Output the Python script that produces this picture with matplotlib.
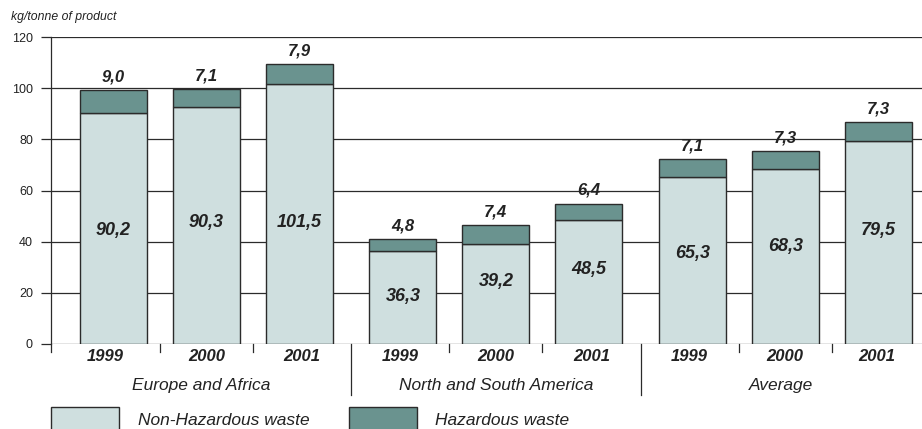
import matplotlib
matplotlib.use("Agg")
from matplotlib import pyplot as plt
from matplotlib.patches import Rectangle

plt.rcParams['font.family'] = ['Liberation Sans', 'DejaVu Sans']

# Data (bar heights as drawn in the picture; labels as printed)
groups = ["Europe and Africa", "North and South America", "Average"]
years = ["1999", "2000", "2001"]
non_hazardous = [90.2, 92.5, 101.5, 36.3, 39.2, 48.5, 65.3, 68.3, 79.5]
non_hazardous_labels = ["90,2", "90,3", "101,5", "36,3", "39,2", "48,5", "65,3", "68,3", "79,5"]
hazardous = [9.0, 7.1, 7.9, 4.8, 7.4, 6.4, 7.1, 7.3, 7.3]
hazardous_labels = ["9,0", "7,1", "7,9", "4,8", "7,4", "6,4", "7,1", "7,3", "7,3"]

# layout: vertical placement of the inner labels (in value units)
inner_label_y = [44.5, 47.6, 47.3, 18.4, 24.3, 29.3, 35.2, 38.0, 44.5]

light = "#cfdfdf"
dark = "#6a938f"
edge = "#2b2b2b"
txt = "#222222"


def main():
    fig = plt.figure(figsize=(9.22, 4.29), dpi=100)
    ax = fig.add_axes([51 / 922, 1 - 344 / 429, 1 - 51 / 922, 307 / 429])

    # bar positions: groups separated by a slightly bigger gap
    xs = [3 * g + i + 0.11 * g for g in range(len(groups)) for i in range(len(years))]
    width = 0.72

    ax.bar(xs, non_hazardous, width, color=light, edgecolor=edge, linewidth=1.0, zorder=3)
    ax.bar(xs, hazardous, width, bottom=non_hazardous, color=dark, edgecolor=edge,
           linewidth=1.0, zorder=3)

    for x, nh, hz, nl, hl, ly in zip(xs, non_hazardous, hazardous,
                                     non_hazardous_labels, hazardous_labels, inner_label_y):
        ax.text(x, ly, nl, ha="center", va="center", fontsize=13,
                fontweight="bold", fontstyle="italic", color=txt, zorder=4)
        ax.annotate(hl, (x, nh + hz), xytext=(0, 4), textcoords="offset points",
                    ha="center", va="bottom", fontsize=12, fontweight="bold",
                    fontstyle="italic", color=txt, zorder=4)

    xleft = xs[0] - 0.672
    xright = xs[0] + 8.69
    ax.set_xlim(xleft, xright)
    ax.set_ylim(0, 120)
    ax.set_yticks(range(0, 121, 20))
    ax.yaxis.grid(True, color=edge, linewidth=0.9, zorder=0)
    ax.tick_params(axis="y", length=7, width=0.9, color=edge, labelsize=9,
                   labelcolor=txt, pad=6)
    ax.set_xticks([])
    for s in ["top", "right", "bottom"]:
        ax.spines[s].set_visible(False)
    ax.spines["left"].set_color(edge)
    ax.spines["left"].set_linewidth(0.9)
    ax.spines["left"].set_bounds(0, 120)

    # separators below axis
    trans = ax.get_xaxis_transform()
    seps = [(xs[k] + xs[k + 1]) / 2 for k in range(len(xs) - 1)]
    ax.plot([xleft, xleft], [0, -0.026], transform=trans, color=edge, lw=0.9, clip_on=False)
    for k, s in enumerate(seps):
        long = (k + 1) % 3 == 0
        ax.plot([s, s], [0, -0.166 if long else -0.026], transform=trans, color=edge,
                lw=0.9, clip_on=False)

    bounds = [xleft] + seps + [xright]
    for k in range(len(xs)):
        cx = (bounds[k] + bounds[k + 1]) / 2
        ax.text(cx, -0.04, years[k % 3], transform=trans, ha="center", va="center",
                fontsize=12, fontweight="bold", fontstyle="italic", color=txt)
    gb = [xleft, seps[2], seps[5], xright]
    for g, name in enumerate(groups):
        ax.text((gb[g] + gb[g + 1]) / 2, -0.15, name, transform=trans, ha="center",
                va="baseline", fontsize=12.5, fontstyle="italic", color=txt)

    # units label
    fig.text(11 / 922, 1 - 20 / 429, "kg/tonne of product", fontsize=8.8,
             fontstyle="italic", color=txt, va="baseline")

    # legend
    fig.patches.append(Rectangle((51 / 922, -0.02), 68 / 922, 0.02 + 22 / 429,
                                 transform=fig.transFigure, facecolor=light,
                                 edgecolor=edge, linewidth=1.0))
    fig.patches.append(Rectangle((349 / 922, -0.02), 68 / 922, 0.02 + 22 / 429,
                                 transform=fig.transFigure, facecolor=dark,
                                 edgecolor=edge, linewidth=1.0))
    fig.text(138 / 922, 1 - 425 / 429, "Non-Hazardous waste", fontsize=12.5,
             fontstyle="italic", color=txt, va="baseline")
    fig.text(435 / 922, 1 - 425 / 429, "Hazardous waste", fontsize=12.5,
             fontstyle="italic", color=txt, va="baseline")

    fig.savefig("out.png", dpi=100)


if __name__ == '__main__':
    main()
